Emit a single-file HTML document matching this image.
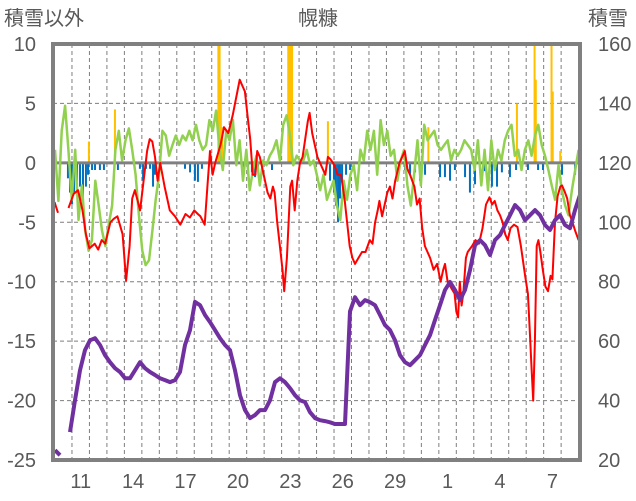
<!DOCTYPE html>
<html><head><meta charset="utf-8">
<style>
html,body{margin:0;padding:0;background:#fff;}
svg{display:block;font-family:"Liberation Sans","Noto Sans CJK JP",sans-serif;}
</style></head>
<body>
<svg id="chart" width="636" height="501" viewBox="0 0 636 501" xmlns="http://www.w3.org/2000/svg">
<text x="318" y="25" font-size="20" fill="#595959" text-anchor="middle">幌糠</text>
<text x="4" y="25" font-size="20" fill="#595959">積雪以外</text>
<text x="588" y="25" font-size="20" fill="#595959">積雪</text>
<g id="grid"></g>
<g id="bars"></g>
<g id="lines"></g>
<g id="axes"></g>
</svg>
<script>
const xTickLabels = ["11","14","17","20","23","26","29","1","4","7"];
const xTickDays = [1,4,7,10,13,16,19,22,25,28];
const leftTicks = [10,5,0,-5,-10,-15,-20,-25];
const rightTicks = [160,140,120,100,80,60,40,20];
const greenVals = [1.1,-3.2,2.7,4.8,1.1,-3.1,1.1,-4.8,-1.9,-5.7,-7.4,-6.5,-1.5,-3.6,-5.7,-7,-5.2,-3.6,1.1,2.7,0.2,1.9,2.9,1.1,-1,-4.4,-7.4,-8.6,-8.2,-5.7,-3.1,-1,2.7,2.3,0.6,1.5,2.3,1.5,2.3,1.9,2.7,1.9,3.2,1.9,1.1,1.5,3.6,2.7,4.4,1.1,-0.6,2.7,1.9,3.6,-0.2,1.9,-1.5,1.1,-2.3,-0.6,0.6,-1.9,0.2,-0.2,0.6,1.1,1.9,0.2,3.2,4,2.3,-0.2,0.6,0.2,0.2,1.1,-0.2,0.2,-1,-2.3,-1,-3.1,-2.3,-1.5,-3.6,-4.8,-1.5,-3.1,-1,-0.2,-2.3,1.1,0.2,2.7,1.1,2.7,-1,3.6,1.5,2.7,0.6,1.1,-1.5,0.2,1.1,-1.9,-3.6,-1,1.9,-1.9,3.2,1.9,2.3,2.7,1.5,1.1,1.5,1.9,0.2,1.1,0.6,1.1,1.9,1.5,1.1,-0.6,1.9,-1.9,1.1,-2.3,1.9,-0.6,1.1,0.2,1.9,2.7,3.2,0.6,1.1,-0.6,1.1,1.9,0.6,2.3,3.2,1.5,0.6,-0.6,-1.9,-3.1,-0.2,-2.3,-3.6,-4.4,-2.3,-0.6,1.1];
const greenStartDay = 0.03, greenEndDay = 30.0;
const redDays = [0.0,0.2,0.25,0.8,0.9,1.1,1.35,1.6,1.8,2.0,2.3,2.5,2.7,2.9,3.2,3.4,3.6,3.9,4.1,4.3,4.45,4.6,4.9,5.1,5.3,5.45,5.6,5.75,5.9,6.05,6.3,6.6,6.9,7.2,7.5,7.75,8.0,8.2,8.35,8.6,8.75,8.9,9.05,9.2,9.5,9.7,9.95,10.2,10.4,10.6,10.75,10.9,11.05,11.2,11.35,11.5,11.6,11.75,11.9,12.05,12.2,12.35,12.5,12.6,12.75,12.9,13.05,13.15,13.3,13.4,13.5,13.6,13.75,13.9,14.05,14.2,14.35,14.5,14.6,14.75,14.9,15.05,15.2,15.35,15.5,15.65,15.8,15.95,16.1,16.2,16.4,16.6,16.75,16.9,17.05,17.2,17.4,17.6,17.8,18.05,18.2,18.35,18.5,18.6,18.75,18.9,19.05,19.2,19.35,19.5,19.75,19.9,20.05,20.2,20.35,20.6,20.75,20.9,21.05,21.2,21.35,21.5,21.7,21.9,22.1,22.25,22.35,22.5,22.7,22.9,23.0,23.1,23.2,23.3,23.4,23.55,23.65,23.9,24.1,24.3,24.5,24.7,24.9,25.05,25.2,25.35,25.5,25.65,25.8,25.95,26.1,26.3,26.5,26.7,26.95,27.1,27.2,27.3,27.4,27.5,27.6,27.7,27.8,27.95,28.1,28.25,28.4,28.5,28.65,28.8,28.95,29.05,29.2,29.35,29.5,29.65,29.8,30.0];
const redVals = [-3.3,-4.2,null,-3.8,-3.4,-2.6,-2.3,-4,-6,-7.2,-6.8,-7.3,-6.5,-6.8,-5,-4.7,-4.5,-6,-9.9,-7,-3,-2.3,-4,-1.5,1,2,1.8,0.5,-1.5,0,-2,-4,-4.5,-5.2,-4.3,-4.6,-4,-4.3,-4.5,-5.2,-2,1,-1,0,1.5,3,2.5,4,5.5,7,6.5,6,4,2,-1,-1,1,0.5,-0.5,-1.5,-2.5,-3,-2,-2.5,-5,-7,-9,-10.8,-8,-5,-2,-1.5,-4,-1.5,0,0.5,2,3.5,4.2,2.5,1.5,0.5,0,-0.5,-1,0.5,0.3,0,-0.5,-1,-1,-3,-5,-7,-8,-8.5,-8,-7.5,-7.5,-6.5,-6.8,-5,-4,-3.2,-4.5,-3.5,-2.5,-2,-3,-1.5,0,0.5,1,-0.5,-1,-2,-3.5,-3,-5.5,-7,-7.5,-8,-9,-8.5,-10,-9,-8.5,-10,-10.5,-11,-12.5,-13,-10,-12,-11,-8,-7.5,-7,-6.5,-6.8,-5.5,-3.5,-2.9,-3.5,-3.2,-4,-4.4,-5,-6,-6.5,-5.5,-5.2,-5.4,-7,-9.6,-11,-14,-17,-20,-15,-7,-6.5,-7.4,-9,-10.4,-10.8,-9.5,-9.8,-5,-2.8,-2,-1.9,-2.4,-3,-4.4,-5,-5.7,-6.5];
const snowVals = [23.3,21.6,null,29.4,40.1,50.2,57,60.3,61,58.7,55.3,52.9,50.9,49.6,47.5,47.5,50.2,52.9,50.9,49.6,48.6,47.5,46.9,46.2,46.9,49.6,58.7,63.7,73.2,72.1,68.8,66.4,63.7,61,58.7,57,50.2,41.8,36.8,34.1,35.1,36.8,36.8,40.1,46.2,47.5,46.2,44.2,41.8,40.1,39.5,36.1,34.1,33.4,33.1,32.7,32.1,32.1,32.1,70,74.8,72.1,73.8,73.1,72.1,68.8,65.4,63.7,60.3,55.3,52.9,51.9,53.6,55.3,58.7,62,67.1,72.1,77.2,79.9,77.2,73.8,77.2,83.9,92.3,94,92.3,89,94,95.7,99.1,102.4,105.8,104.1,100.7,102.4,104.1,102.4,99.1,97.4,100.7,102.4,99.1,98,104.1,109.2];
const snowStartDay = 0.03, snowStepDay = 0.2862;
const fallDays = [0.77,0.89,1.0,1.12,1.29,1.46,1.63,1.8,1.92,2.15,2.32,2.6,2.83,3.63,4.89,5.07,5.24,5.47,5.64,5.75,7.47,7.76,8.04,8.21,8.44,10.79,11.08,11.3,11.48,11.65,11.88,12.45,15.77,16.0,16.11,16.23,16.34,16.46,16.69,16.92,20.07,20.35,20.64,20.92,21.21,22.07,22.35,22.64,22.92,23.5,23.78,24.07,24.64,25.04,25.33,25.61,26.07,26.42,27.1,27.68,27.96,29.05,29.8];
const fallVals = [-1.3,-2.5,-3.5,-2.5,-1.5,-2,-3.5,-2,-1,-0.6,-0.6,-0.6,-0.6,-0.6,-0.5,-1.5,-0.5,-0.5,-2,-1,-0.5,-0.8,-1.5,-1.6,-0.5,-0.5,-1,-0.8,-1.2,-0.6,-0.7,-0.6,-1.5,-2.5,-3.6,-5,-3,-1.5,-1,-0.6,-0.6,-1,-0.8,-1.5,-1,-1.2,-1.2,-1.5,-0.6,-1.2,-2.5,-1.8,-0.7,-2,-2,-0.8,-1.2,-0.6,-0.6,-0.6,-0.6,-1,-1];
const riseDays = [1.97,3.46,9.38,9.45,9.52,9.6,13.38,13.45,13.52,13.6,15.65,21.4,26.47,27.48,27.55,28.45,28.52,28.95];
const riseVals = [1.8,4.5,10,10,7,3,10,10,10,10,3.5,3,5,10,7,10,6,1];

const NS='http://www.w3.org/2000/svg';
const X0=54.5, DAYW=17.47, PL=53, PR=580, PT=44, PB=460;
function xScale(d){return X0+d*DAYW;}
function yL(v){return PT+(10-v)*(PB-PT)/35;}
function yR(v){return PT+(160-v)*(PB-PT)/140;}
function mk(tag,attrs,parent){const e=document.createElementNS(NS,tag);for(const k in attrs)e.setAttribute(k,attrs[k]);parent.appendChild(e);return e;}
const grid=document.getElementById('grid'),bars=document.getElementById('bars'),lines=document.getElementById('lines'),axes=document.getElementById('axes');

for(let d=1;d<30;d++){
  const l=mk('line',{x1:xScale(d),x2:xScale(d),y1:PT,y2:PB,stroke:'#7f7f7f','stroke-width':1,'stroke-dasharray':'4,3'},grid);
  
  
}
leftTicks.forEach(v=>{
  if(v===10||v===-25)return;
  const l=mk('line',{x1:PL,x2:PR,y1:yL(v),y2:yL(v),stroke:'#7f7f7f','stroke-width':1,'stroke-dasharray':'4,3'},grid);
  
  
});

fallVals.forEach((v,i)=>{
  const y0=yL(0),y1=yL(v);
  const r=mk('rect',{x:xScale(fallDays[i])-1,y:y0,width:2,height:y1-y0,fill:'#0070C0'},bars);
  
  
});
riseVals.forEach((v,i)=>{
  const y0=yL(0),y1=yL(v);
  const r=mk('rect',{x:xScale(riseDays[i])-1,y:y1,width:2,height:y0-y1,fill:'#FFC000'},bars);
  
  
});

const zl=mk('line',{x1:PL,x2:PR,y1:yL(0),y2:yL(0),stroke:'#808080','stroke-width':3},lines);



function pathFrom(days,vals,ys){
  let d='',pen=false;
  vals.forEach((v,i)=>{
    if(v===null){pen=false;return;}
    d+=(pen?'L':'M')+xScale(days[i]).toFixed(1)+','+ys(v).toFixed(1);pen=true;
  });
  return d;
}
const gDays=greenVals.map((_,i)=>greenStartDay+i*(greenEndDay-greenStartDay)/(greenVals.length-1));
const gp=mk('path',{d:pathFrom(gDays,greenVals,yL),fill:'none',stroke:'#92D050','stroke-width':2.5,'stroke-linejoin':'round'},lines);


const rp=mk('path',{d:pathFrom(redDays,redVals,yL),fill:'none',stroke:'#FF0000','stroke-width':2,'stroke-linejoin':'round'},lines);


const sDays=snowVals.map((_,i)=>snowStartDay+i*snowStepDay);
const sp=mk('path',{d:pathFrom(sDays,snowVals,yR),fill:'none',stroke:'#7030A0','stroke-width':4,'stroke-linejoin':'round'},lines);



const fr=mk('rect',{x:PL,y:PT,width:PR-PL,height:PB-PT,fill:'none',stroke:'#808080','stroke-width':4},axes);



leftTicks.forEach(v=>{
  const t=mk('text',{x:36,y:yL(v)+7,'font-size':20,fill:'#595959','text-anchor':'end'},axes);
  t.textContent=String(v);
  
  
});
rightTicks.forEach(v=>{
  const t=mk('text',{x:598,y:yR(v)+7,'font-size':20,fill:'#595959'},axes);
  t.textContent=String(v);
  
  
});
xTickLabels.forEach((s,i)=>{
  const t=mk('text',{x:xScale(xTickDays[i]+0.5),y:488,'font-size':20,fill:'#595959','text-anchor':'middle'},axes);
  t.textContent=s;
  
  
});
</script>
</body></html>
